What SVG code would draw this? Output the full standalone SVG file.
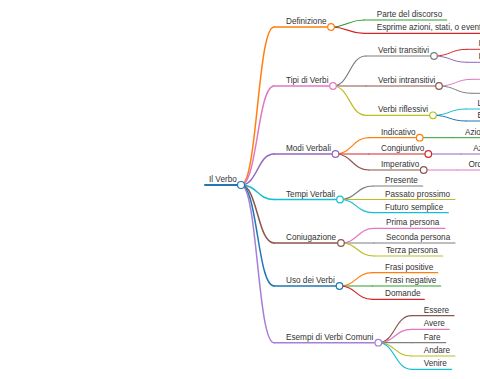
<svg xmlns="http://www.w3.org/2000/svg" width="480" height="379" viewBox="0 0 480 379">
<style>
text{font-family:"Liberation Sans",Arial,sans-serif;font-size:8.2px;fill:#333}
path,line{fill:none;stroke-linecap:round}
circle{fill:#fff;stroke-width:1.2}
.l0{stroke-width:2}
.l1{stroke-width:1.5}
.l2{stroke-width:1.2}
.l3{stroke-width:1}
.blue{stroke:#1f77b4}
.orange{stroke:#ff7f0e}
.green{stroke:#2ca02c}
.red{stroke:#d62728}
.purple{stroke:#9467bd}
.violet{stroke:#a77fd6}
.brown{stroke:#8c564b}
.pink{stroke:#e377c2}
.gray{stroke:#7f7f7f}
.olive{stroke:#bcbd22}
.cyan{stroke:#17becf}
</style>
<rect width="480" height="379" fill="#fff"/>
<g id="connectors">
<path class="l1 orange" d="M241,185 C257.5,185 257.5,27 274,27"/>
<path class="l1 pink" d="M241,185 C257.5,185 257.5,86 274,86"/>
<path class="l1 purple" d="M241,185 C257.5,185 257.5,154 274,154"/>
<path class="l1 cyan" d="M241,185 C257.5,185 257.5,199.5 274,199.5"/>
<path class="l1 brown" d="M241,185 C257.5,185 257.5,243 274,243"/>
<path class="l1 blue" d="M241,185 C257.5,185 257.5,286 274,286"/>
<path class="l1 violet" d="M241,185 C257.5,185 257.5,342.7 274,342.7"/>
<path class="l2 green" d="M331,27 C347.5,27 347.5,20 364,20"/>
<path class="l2 red" d="M331,27 C347.5,27 347.5,33.3 364,33.3"/>
<path class="l2 gray" d="M333,86 C349.5,86 349.5,56 366,56"/>
<path class="l2 brown" d="M333,86 C349.5,86 349.5,86 366,86"/>
<path class="l2 olive" d="M333,86 C349.5,86 349.5,115.3 366,115.3"/>
<path class="l3 red" d="M434,56 C450.5,56 450.5,49.3 467,49.3"/>
<path class="l3 purple" d="M434,56 C450.5,56 450.5,62.3 467,62.3"/>
<path class="l3 pink" d="M439,86 C455.5,86 455.5,79.3 472,79.3"/>
<path class="l3 gray" d="M439,86 C455.5,86 455.5,93.3 472,93.3"/>
<path class="l3 cyan" d="M433,115.3 C449.5,115.3 449.5,109 466,109"/>
<path class="l3 blue" d="M433,115.3 C449.5,115.3 449.5,121 466,121"/>
<path class="l2 orange" d="M335.5,154 C352.2,154 352.2,137.7 369,137.7"/>
<path class="l2 red" d="M335.5,154 C352.2,154 352.2,154 369,154"/>
<path class="l2 brown" d="M335.5,154 C352.2,154 352.2,170 369,170"/>
<path class="l3 green" d="M419.7,137.7 L452.7,137.7"/>
<path class="l3 purple" d="M428.3,154 L461,154"/>
<path class="l3 pink" d="M423.7,170 L457,170"/>
<path class="l2 gray" d="M340,199.5 C356.5,199.5 356.5,186 373,186"/>
<path class="l2 olive" d="M340,199.5 C356.5,199.5 356.5,199.5 373,199.5"/>
<path class="l2 cyan" d="M340,199.5 C356.5,199.5 356.5,212.7 373,212.7"/>
<path class="l2 pink" d="M341,243 C357.5,243 357.5,228.4 374,228.4"/>
<path class="l2 gray" d="M341,243 C357.5,243 357.5,243 374,243"/>
<path class="l2 olive" d="M341,243 C357.5,243 357.5,256 374,256"/>
<path class="l2 orange" d="M339.5,286 C356,286 356,272.7 372.5,272.7"/>
<path class="l2 green" d="M339.5,286 C356,286 356,286 372.5,286"/>
<path class="l2 red" d="M339.5,286 C356,286 356,299.3 372.5,299.3"/>
<path class="l2 brown" d="M378.3,342.7 C394.9,342.7 394.9,315.7 411.5,315.7"/>
<path class="l2 pink" d="M378.3,342.7 C394.9,342.7 394.9,329.3 411.5,329.3"/>
<path class="l2 gray" d="M378.3,342.7 C394.9,342.7 394.9,342.7 411.5,342.7"/>
<path class="l2 olive" d="M378.3,342.7 C394.9,342.7 394.9,356 411.5,356"/>
<path class="l2 cyan" d="M378.3,342.7 C394.9,342.7 394.9,369.3 411.5,369.3"/>
</g>
<g id="n-parte"><line class="l2 green" x1="364" y1="20" x2="446.7" y2="20"/><text x="376.7" y="17">Parte del discorso</text></g>
<g id="n-esprime"><line class="l2 red" x1="364" y1="33.3" x2="490" y2="33.3"/><text x="376.7" y="30.3">Esprime azioni, stati, o eventi</text></g>
<g id="n-t1"><line class="l3 red" x1="467" y1="49.3" x2="490" y2="49.3"/><text x="478.5" y="46.3">Io leggo un libro</text></g>
<g id="n-t2"><line class="l3 purple" x1="467" y1="62.3" x2="490" y2="62.3"/><text x="478.5" y="59.3">Io mangio una mela</text></g>
<g id="n-i1"><line class="l3 pink" x1="472" y1="79.3" x2="490" y2="79.3"/></g>
<g id="n-i2"><line class="l3 gray" x1="472" y1="93.3" x2="490" y2="93.3"/></g>
<g id="n-r1"><line class="l3 cyan" x1="466" y1="109" x2="490" y2="109"/><text x="477.5" y="106">Lavarsi</text></g>
<g id="n-r2"><line class="l3 blue" x1="466" y1="121" x2="490" y2="121"/><text x="477.5" y="118">Esempio</text></g>
<g id="n-transitivi"><line class="l2 gray" x1="366" y1="56" x2="434" y2="56"/><text x="378" y="53">Verbi transitivi</text><circle class="gray" cx="434" cy="56" r="3.3"/></g>
<g id="n-intransitivi"><line class="l2 brown" x1="366" y1="86" x2="439" y2="86"/><text x="378" y="83">Verbi intransitivi</text><circle class="brown" cx="439" cy="86" r="3.3"/></g>
<g id="n-riflessivi"><line class="l2 olive" x1="366" y1="115.3" x2="433" y2="115.3"/><text x="378" y="112.3">Verbi riflessivi</text><circle class="olive" cx="433" cy="115.3" r="3.3"/></g>
<g id="n-ind-c"><line class="l3 green" x1="452.7" y1="137.7" x2="490" y2="137.7"/><text x="465" y="134.7">Azioni reali</text></g>
<g id="n-con-c"><line class="l3 purple" x1="461" y1="154" x2="490" y2="154"/><text x="473.3" y="151">Azioni ipotetiche</text></g>
<g id="n-imp-c"><line class="l3 pink" x1="457" y1="170" x2="490" y2="170"/><text x="468.5" y="167">Ordini</text></g>
<g id="n-indicativo"><line class="l2 orange" x1="369" y1="137.7" x2="419.7" y2="137.7"/><text x="381" y="134.7">Indicativo</text><circle class="orange" cx="419.7" cy="137.7" r="3.3"/></g>
<g id="n-congiuntivo"><line class="l2 red" x1="369" y1="154" x2="428.3" y2="154"/><text x="381" y="151">Congiuntivo</text><circle class="red" cx="428.3" cy="154" r="3.3"/></g>
<g id="n-imperativo"><line class="l2 brown" x1="369" y1="170" x2="423.7" y2="170"/><text x="381" y="167">Imperativo</text><circle class="brown" cx="423.7" cy="170" r="3.3"/></g>
<g id="n-presente"><line class="l2 gray" x1="373" y1="186" x2="422.7" y2="186"/><text x="385" y="183">Presente</text></g>
<g id="n-passato"><line class="l2 olive" x1="373" y1="199.5" x2="455" y2="199.5"/><text x="385" y="196.5">Passato prossimo</text></g>
<g id="n-futuro"><line class="l2 cyan" x1="373" y1="212.7" x2="448.3" y2="212.7"/><text x="385" y="209.7">Futuro semplice</text></g>
<g id="n-prima"><line class="l2 pink" x1="374" y1="228.4" x2="445" y2="228.4"/><text x="386" y="225.4">Prima persona</text></g>
<g id="n-seconda"><line class="l2 gray" x1="374" y1="243" x2="455" y2="243"/><text x="386" y="240">Seconda persona</text></g>
<g id="n-terza"><line class="l2 olive" x1="374" y1="256" x2="442.7" y2="256"/><text x="386" y="253">Terza persona</text></g>
<g id="n-positive"><line class="l2 orange" x1="372.5" y1="272.7" x2="437.7" y2="272.7"/><text x="385" y="269.7">Frasi positive</text></g>
<g id="n-negative"><line class="l2 green" x1="372.5" y1="286" x2="440.7" y2="286"/><text x="385" y="283">Frasi negative</text></g>
<g id="n-domande"><line class="l2 red" x1="372.5" y1="299.3" x2="424.3" y2="299.3"/><text x="385" y="296.3">Domande</text></g>
<g id="n-essere"><line class="l2 brown" x1="411.5" y1="315.7" x2="454" y2="315.7"/><text x="423.7" y="312.7">Essere</text></g>
<g id="n-avere"><line class="l2 pink" x1="411.5" y1="329.3" x2="449.3" y2="329.3"/><text x="423.7" y="326.3">Avere</text></g>
<g id="n-fare"><line class="l2 gray" x1="411.5" y1="342.7" x2="445.7" y2="342.7"/><text x="423.7" y="339.7">Fare</text></g>
<g id="n-andare"><line class="l2 olive" x1="411.5" y1="356" x2="455" y2="356"/><text x="423.7" y="353">Andare</text></g>
<g id="n-venire"><line class="l2 cyan" x1="411.5" y1="369.3" x2="451.7" y2="369.3"/><text x="423.7" y="366.3">Venire</text></g>
<g id="n-definizione"><line class="l1 orange" x1="274" y1="27" x2="331" y2="27"/><text x="286" y="24">Definizione</text><circle class="orange" cx="331" cy="27" r="3.3"/></g>
<g id="n-tipi"><line class="l1 pink" x1="274" y1="86" x2="333" y2="86"/><text x="286" y="83">Tipi di Verbi</text><circle class="pink" cx="333" cy="86" r="3.3"/></g>
<g id="n-modi"><line class="l1 purple" x1="274" y1="154" x2="335.5" y2="154"/><text x="286" y="151">Modi Verbali</text><circle class="purple" cx="335.5" cy="154" r="3.3"/></g>
<g id="n-tempi"><line class="l1 cyan" x1="274" y1="199.5" x2="340" y2="199.5"/><text x="286" y="196.5">Tempi Verbali</text><circle class="cyan" cx="340" cy="199.5" r="3.3"/></g>
<g id="n-coniugazione"><line class="l1 brown" x1="274" y1="243" x2="341" y2="243"/><text x="286" y="240">Coniugazione</text><circle class="brown" cx="341" cy="243" r="3.3"/></g>
<g id="n-uso"><line class="l1 blue" x1="274" y1="286" x2="339.5" y2="286"/><text x="286" y="283">Uso dei Verbi</text><circle class="blue" cx="339.5" cy="286" r="3.3"/></g>
<g id="n-esempi"><line class="l1 violet" x1="274" y1="342.7" x2="378.3" y2="342.7"/><text x="286" y="339.7">Esempi di Verbi Comuni</text><circle class="violet" cx="378.3" cy="342.7" r="3.3"/></g>
<g id="n-root"><line class="l0 blue" x1="205" y1="185" x2="241" y2="185"/><text x="209" y="181.5">Il Verbo</text><circle class="blue" cx="241" cy="185" r="3.5"/></g>
</svg>
